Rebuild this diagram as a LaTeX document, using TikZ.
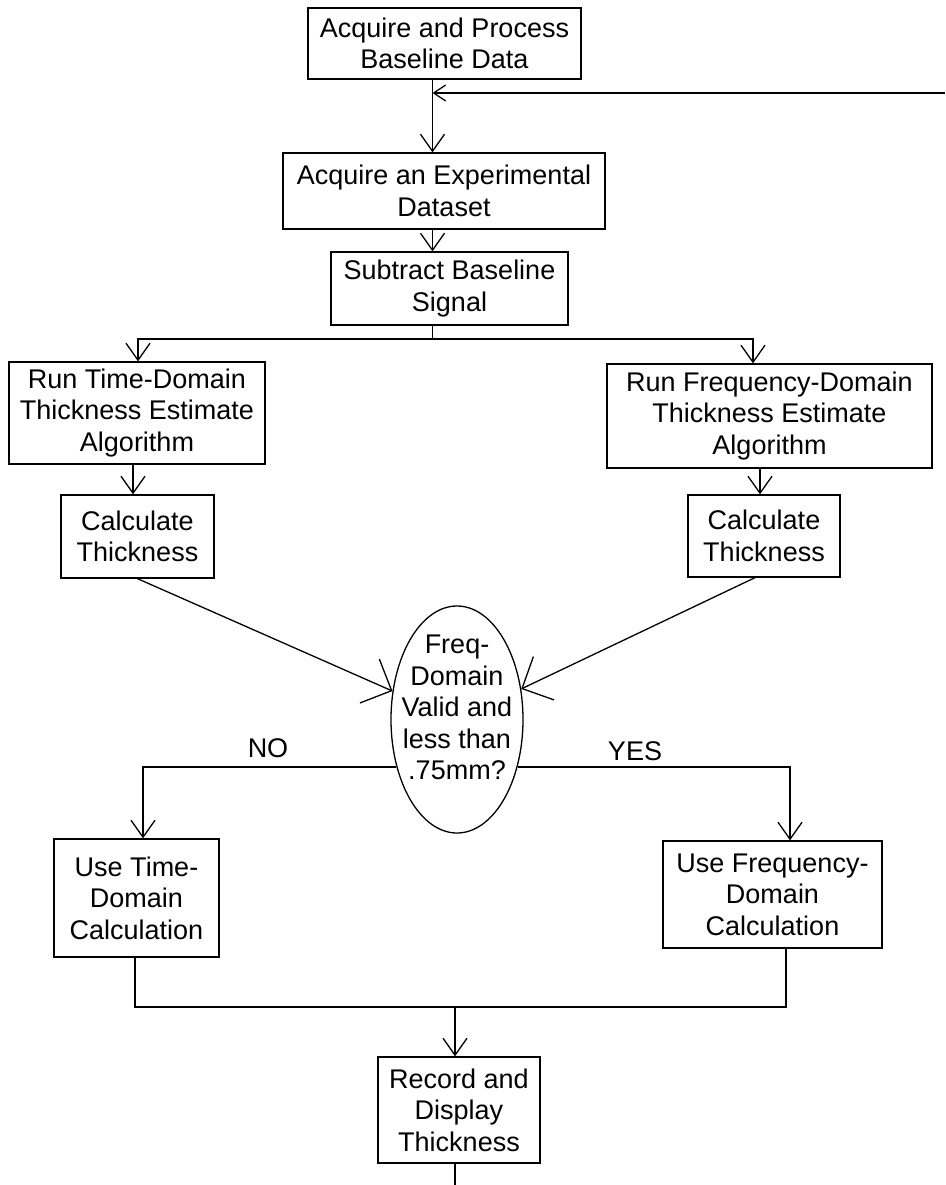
\documentclass[tikz,border=0pt]{standalone}
\usepackage{fontspec}
\setmainfont{Liberation Sans}
\usetikzlibrary{shapes.geometric,arrows.meta}
\begin{document}
\begin{tikzpicture}[x=1pt,y=1pt,line width=1.3pt,
  box/.style={draw, line width=1.3pt, align=center, inner sep=0pt, font=\fontsize{27}{31.5}\selectfont},
  txt/.style={align=center, inner sep=0pt, font=\fontsize{27}{31.5}\selectfont},
  arr/.style={-{Straight Barb[length=17pt,width=24pt]}},
  bigarr/.style={-{Straight Barb[length=24pt,width=48pt]}},
  smallarr/.style={-{Straight Barb[length=12pt,width=16pt]}}]
\useasboundingbox (0,0) rectangle (945,-1185);
% boxes
\node[box, minimum width=273pt, minimum height=71pt] (b1) at (444.5,-43.5) {Acquire and Process\\Baseline Data};
\node[box, minimum width=322pt, minimum height=76pt] (b2) at (444,-191) {Acquire an Experimental\\Dataset};
\node[box, minimum width=237pt, minimum height=73pt] (b3) at (449.5,-288.5) {Subtract Baseline\\Signal};
\node[box, minimum width=256pt, minimum height=102pt] (b4) at (137,-413) {Run Time-Domain\\Thickness Estimate\\Algorithm};
\node[box, minimum width=325pt, minimum height=104pt] (b5) at (769.5,-416) {Run Frequency-Domain\\Thickness Estimate\\Algorithm};
\node[box, minimum width=153pt, minimum height=83pt] (b6) at (137.5,-536.5) {Calculate\\Thickness};
\node[box, minimum width=152pt, minimum height=82pt] (b7) at (764,-536) {Calculate\\Thickness};
\node[draw, ellipse, line width=1.3pt, minimum width=132pt, minimum height=227pt, inner sep=0pt] (dec) at (457,-719.5) {};
\node[txt] (dectext) at (457,-707.5) {Freq-\\Domain\\Valid and\\less than\\.75mm?};
\node[box, minimum width=165pt, minimum height=118pt] (b9) at (136.5,-898) {Use Time-\\Domain\\Calculation};
\node[box, minimum width=219pt, minimum height=107pt] (b10) at (772.5,-894.5) {Use Frequency-\\Domain\\Calculation};
\node[box, minimum width=162pt, minimum height=106pt] (b11) at (459,-1110) {Record and\\Display\\Thickness};
\node[txt] (no) at (268,-748) {NO};
\node[txt] (yes) at (635,-751) {YES};
% column coordinates
\coordinate (colA) at (432.5,0);
\coordinate (colL1) at (138,0);
\coordinate (colL2) at (133,0);
\coordinate (colR1) at (753,0);
\coordinate (colR2) at (760,0);
\coordinate (colR4) at (755,0);
\coordinate (colNo) at (143,0);
\coordinate (colYes) at (790,0);
\coordinate (colL3) at (135,0);
\coordinate (colR3) at (786,0);
\coordinate (fb) at (945,-93);
\coordinate (split) at (432.5,-339);
\coordinate (merge) at (455,-1007);
\coordinate (bot) at (455,-1185);
% connectors
\draw[arr] (b1.south -| colA) -- (b2.north -| colA);
\draw[smallarr] (fb) -- (fb -| colA);
\draw[arr] (b2.south -| colA) -- (b3.north -| colA);
\draw (b3.south -| split) -- (split);
\draw[arr] (split) -| (b4.north -| colL1);
\draw[arr] (split) -| (b5.north -| colR1);
\draw[arr] (b4.south -| colL2) -- (b6.north -| colL2);
\draw[arr] (b5.south -| colR2) -- (b7.north -| colR2);
\draw[bigarr] (b6.south) -- (dec);
\draw[bigarr] (b7.south -| colR4) -- (dec);
\draw[arr] (dec.218) -| (b9.north -| colNo);
\draw[arr] (dec.-38) -| (b10.north -| colYes);
\draw (b9.south -| colL3) |- (merge);
\draw (b10.south -| colR3) |- (merge);
\draw[arr] (merge) -- (b11.north -| merge);
\draw (b11.south -| bot) -- (bot);
\end{tikzpicture}
\end{document}
